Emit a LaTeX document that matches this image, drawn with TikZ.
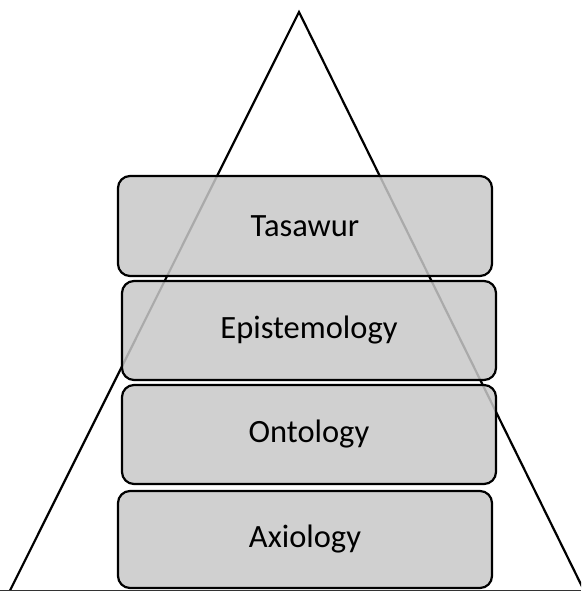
\documentclass[tikz,border=0pt]{standalone}
\usepackage{fontspec}
\setmainfont{Carlito}
\definecolor{boxfill}{RGB}{200,200,200}
\tikzset{
  layer/.style={draw=black, line width=2.2pt, rounded corners=12pt,
    fill=boxfill, fill opacity=0.85, text opacity=1,
    minimum width=374pt, minimum height=100pt, inner sep=0pt,
    font=\fontsize{32.5}{38}\selectfont},
  tri/.style={draw=black, line width=2.2pt, line join=miter}
}
\begin{document}
\begin{tikzpicture}[x=1pt,y=-1pt]
\useasboundingbox (0,0) rectangle (581,591);
\clip (0,0) rectangle (581,591);
\coordinate (apex) at (299,12);
\coordinate (bl) at (10,590.5);
\coordinate (br) at (584,590.5);
\draw[tri] (bl) -- (apex) -- (br);
\draw[draw=black!80, line width=2pt] (0,590.5) -- (581,590.5);
\node[layer, minimum height=100pt] (tas) at (305,226) {Tasawur};
\node[layer, minimum height=99pt] (epi) at (309,330.5) {Epistemology};
\node[layer, minimum height=99pt] (ont) at (309,434.5) {Ontology};
\node[layer, minimum height=97pt] (axi) at (305,539.5) {Axiology};
\end{tikzpicture}
\end{document}
